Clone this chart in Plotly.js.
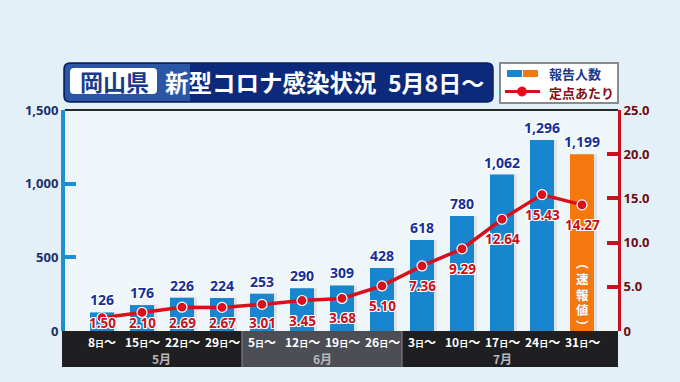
<!DOCTYPE html>
<html>
<head>
<meta charset="utf-8">
<script src="https://cdn.plot.ly/plotly-3.0.1.min.js"></script>
<style>
html,body{margin:0;padding:0;background:#e3f0f7;}
#chart{width:680px;height:382px;}
</style>
</head>
<body>
<div id="chart"></div>
<script>
// ---- data ----
const weeks = ['8','15','22','29','5','12','19','26','3','10','17','24','31'];
const months = ['5月','6月','7月'];
const monthFirst = [0,4,8];
const monthLast = [3,7,12];
const reported = [126,176,226,224,253,290,309,428,618,780,1062,1296,1199];
const perSite = [1.50,2.10,2.69,2.67,3.01,3.45,3.68,5.10,7.36,9.29,12.64,15.43,14.27];
const leftTicks = [0,500,1000,1500];
const leftTickText = ['0','500','1,000','1,500'];
const rightTicks = [0,5,10,15,20,25];
const rightTickText = ['0','5.0','10.0','15.0','20.0','25.0'];
const titleBadge = '岡山県';
const titleMain = '新型コロナ感染状況';
const titleDate = '5月8日～';
const legendBar = '報告人数';
const legendLine = '定点あたり';
const prelimChars = ['︵','速','報','値','︶'];

// ---- geometry helpers ----
const W = 680, H = 382;
const M = {l:65, r:62, t:110, b:51};
const PW = W - M.l - M.r, PH = H - M.t - M.b;
const xRange = [-0.925, 12.9];
const P = px => (px - M.l) / PW;          // pixel x -> paper
const Q = py => (H - M.b - py) / PH;      // pixel y -> paper
const XC = i => (i - xRange[0]) / (xRange[1] - xRange[0]); // category -> paper
const CJK = '"Noto Sans CJK JP", "Noto Sans", sans-serif';
const NUM = '"Noto Sans", "DejaVu Sans", sans-serif';
const outline = c => ['1px 1px 0 '+c,'-1px -1px 0 '+c,'1px -1px 0 '+c,'-1px 1px 0 '+c,'0 1px 0 '+c,'1px 0 0 '+c,'0 -1px 0 '+c,'-1px 0 0 '+c].join(', ');

function rrect(x0,y0,x1,y1,r,corners){ // pixel coords -> paper path
  const c = corners || [1,1,1,1]; // tl,tr,br,bl
  const rx = r/PW, ry = r/PH;
  const X0=P(x0),X1=P(x1),Y0=Q(y0),Y1=Q(y1);
  let d = '';
  d += 'M '+(X0+(c[0]?rx:0))+' '+Y0;
  d += ' L '+(X1-(c[1]?rx:0))+' '+Y0;
  if(c[1]) d += ' Q '+X1+' '+Y0+' '+X1+' '+(Y0-ry);
  d += ' L '+X1+' '+(Y1+(c[2]?ry:0));
  if(c[2]) d += ' Q '+X1+' '+Y1+' '+(X1-rx)+' '+Y1;
  d += ' L '+(X0+(c[3]?rx:0))+' '+Y1;
  if(c[3]) d += ' Q '+X0+' '+Y1+' '+X0+' '+(Y1+ry);
  d += ' L '+X0+' '+(Y0-(c[0]?ry:0));
  if(c[0]) d += ' Q '+X0+' '+Y0+' '+(X0+rx)+' '+Y0;
  return d+' Z';
}

const idx = reported.map((_,i)=>i);
const BLUE = '#1886cf', ORANGE = '#f5780f';
const barColors = reported.map((_,i)=> i === reported.length-1 ? ORANGE : BLUE);

const traces = [
  { // right-side light edge of bars
    type:'bar', x:idx, y:reported, width:0.6, offset:-0.225,
    marker:{color:'#dde4ea', line:{width:0}}, hoverinfo:'skip', showlegend:false
  },
  {
    type:'bar', x:idx, y:reported, width:0.6, offset:-0.3,
    marker:{color:barColors, line:{width:0}},
    text: reported.map(v=>v.toLocaleString('en-US')),
    textposition:'outside', constraintext:'none', cliponaxis:false,
    textfont:{family:NUM, size:14, color:'#15309a', weight:'bold', shadow:outline('#ffffff')},
    hoverinfo:'skip', showlegend:false
  },
  {
    type:'scatter', mode:'lines+markers', x:idx, y:perSite, yaxis:'y2',
    line:{color:'#d8101c', width:3.5},
    marker:{size:10, color:'#d8101c', line:{color:'#ffffff', width:1.2}},
    cliponaxis:false, hoverinfo:'skip', showlegend:false
  }
];

const shapes = [];
const annotations = [];
const ann = o => annotations.push(Object.assign({showarrow:false, xanchor:'center', yanchor:'middle'}, o));

// top frame line
shapes.push({type:'line', xref:'paper', yref:'paper', x0:0, x1:1, y0:1, y1:1, line:{color:'#2a2a2a', width:2}, layer:'above'});

// bottom category band
const bandY0 = 0, bandY1 = Q(367);
months.forEach((m,k)=>{
  const a = k===0 ? P(62) : XC(monthFirst[k]-0.5);
  const b = k===months.length-1 ? 1 : XC(monthLast[k]+0.5);
  shapes.push({type:'rect', xref:'paper', yref:'paper', x0:a, x1:b, y0:bandY1, y1:bandY0,
    fillcolor: k===1 ? '#4d4d55' : '#1f1f21', line:{width:0}, layer:'above'});
  if(k>0) shapes.push({type:'line', xref:'paper', yref:'paper', x0:a, x1:a, y0:bandY1, y1:bandY0, line:{color:'#8a8a90', width:1}, layer:'above'});
  ann({xref:'paper', yref:'paper', x:(XC(monthFirst[k])+XC(monthLast[k]))/2, y:Q(358),
    text:'<b>'+m+'</b>', font:{family:CJK, size:12, color:'#b8b8be'}});
});
weeks.forEach((w,i)=>{
  ann({xref:'x', yref:'paper', x:i, y:Q(341),
    text:'<b>'+w+'<span style="font-size:9px">日</span>～</b>', font:{family:CJK, size:12, color:'#ffffff'}});
});

// line value labels
perSite.forEach((v,i)=>{
  const mk = H - M.b - v/25*PH;
  const shift = Math.min(20, 323 - mk);
  ann({xref:'x', yref:'y2', x:i, y:v, yshift:-shift,
    text:'<b>'+v.toFixed(2)+'</b>', font:{family:NUM, size:13.5, color:'#c8101c', shadow:outline('#ffffff')}});
});

// preliminary vertical text in last bar
const prelimY = [262, 278, 294, 309, 325];
prelimChars.forEach((ch,k)=>{
  ann({xref:'x', yref:'paper', x:reported.length-1, y:Q(prelimY[k]),
    text:'<b>'+ch+'</b>', font:{family:CJK, size:12.5, color:'#ffffff'}});
});

// title box
shapes.push({type:'path', xref:'paper', yref:'paper', path:rrect(64,63,493,102,6), fillcolor:'#0c2a7c', line:{color:'#081f5e', width:1.5}, layer:'above'});
shapes.push({type:'path', xref:'paper', yref:'paper', path:rrect(65,64,190,101,5,[1,0,0,1]), fillcolor:'#2b56a6', line:{width:0}, layer:'above'});
shapes.push({type:'path', xref:'paper', yref:'paper', path:rrect(70,68,157,94,4), fillcolor:'#ffffff', line:{width:0}, layer:'above'});
ann({xref:'paper', yref:'paper', x:P(114), y:Q(81),
  text:'<b>'+titleBadge+'</b>', font:{family:CJK, size:23, color:'#173a8c'}});
ann({xref:'paper', yref:'paper', x:P(163), xanchor:'left', y:Q(82),
  text:'<b>'+titleMain+'</b>', font:{family:CJK, size:23.5, color:'#ffffff'}});
ann({xref:'paper', yref:'paper', x:P(386), xanchor:'left', y:Q(82),
  text:'<b>'+titleDate+'</b>', font:{family:CJK, size:23, color:'#ffffff'}});

// legend box
shapes.push({type:'rect', xref:'paper', yref:'paper', x0:P(500), x1:P(618), y0:Q(103), y1:Q(63), fillcolor:'#ffffff', line:{color:'#8a8a8a', width:2}, layer:'above'});
shapes.push({type:'rect', xref:'paper', yref:'paper', x0:P(507), x1:P(522), y0:Q(77), y1:Q(70), fillcolor:BLUE, line:{width:0}, layer:'above'});
shapes.push({type:'rect', xref:'paper', yref:'paper', x0:P(523), x1:P(538), y0:Q(77), y1:Q(70), fillcolor:ORANGE, line:{width:0}, layer:'above'});
shapes.push({type:'line', xref:'paper', yref:'paper', x0:P(505), x1:P(540), y0:Q(91.5), y1:Q(91.5), line:{color:'#d8101c', width:3}, layer:'above'});
shapes.push({type:'circle', xref:'paper', yref:'paper', x0:P(517.5), x1:P(526.5), y0:Q(96), y1:Q(87), fillcolor:'#d8101c', line:{color:'#d8101c', width:1}, layer:'above'});
ann({xref:'paper', yref:'paper', x:P(547), xanchor:'left', y:Q(74),
  text:'<b>'+legendBar+'</b>', font:{family:CJK, size:13, color:'#1b3a8c'}});
ann({xref:'paper', yref:'paper', x:P(547), xanchor:'left', y:Q(92),
  text:'<b>'+legendLine+'</b>', font:{family:CJK, size:13, color:'#8b0c14'}});

const layout = {
  width:W, height:H, margin:M,
  paper_bgcolor:'#e3f0f7', plot_bgcolor:'#eef6fa',
  barmode:'overlay', showlegend:false,
  xaxis:{range:xRange, showticklabels:false, showgrid:false, zeroline:false, showline:false, ticks:'', fixedrange:true},
  yaxis:{range:[0,1500], tickvals:leftTicks, ticktext:leftTickText, showgrid:false, zeroline:false,
    showline:true, linecolor:'#1e8fd5', linewidth:4, ticks:'inside', ticklen:11, tickwidth:4, tickcolor:'#1e8fd5',
    tickfont:{family:NUM, size:13, color:'#1b2f6a', weight:'bold'}},
  yaxis2:{range:[0,25], overlaying:'y', side:'right', tickvals:rightTicks, ticktext:rightTickText, showgrid:false, zeroline:false,
    showline:true, linecolor:'#c8101e', linewidth:3, ticks:'inside', ticklen:11, tickwidth:4, tickcolor:'#c8101e',
    tickfont:{family:NUM, size:13, color:'#6e0c12', weight:'bold'}},
  shapes:shapes, annotations:annotations
};

Plotly.newPlot('chart', traces, layout, {displayModeBar:false, staticPlot:true});
</script>
</body>
</html>
